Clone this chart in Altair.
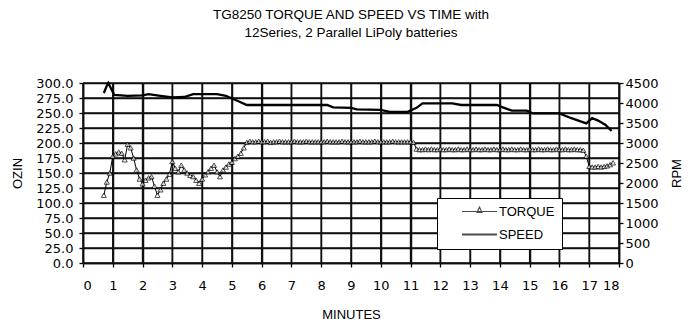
import altair as alt
import pandas as pd

title_lines = ["TG8250 TORQUE AND SPEED VS TIME with", "12Series, 2 Parallel LiPoly batteries"]
minute_ticks = [0, 1, 2, 3, 4, 5, 6, 7, 8, 9, 10, 11, 12, 13, 14, 15, 16, 17, 18]
ozin_ticks = [0, 25, 50, 75, 100, 125, 150, 175, 200, 225, 250, 275, 300]
rpm_ticks = [0, 500, 1000, 1500, 2000, 2500, 3000, 3500, 4000, 4500]
series_names = ["TORQUE", "SPEED"]

torque_min = [
    0.7, 0.8, 0.9,
    1.0, 1.1, 1.2, 1.3, 1.4, 1.5, 1.6, 1.7, 1.8, 1.9,
    2.0, 2.1, 2.2, 2.3, 2.4, 2.5, 2.6, 2.7, 2.8, 2.9,
    3.0, 3.1, 3.2, 3.3, 3.4, 3.5, 3.6, 3.7, 3.8, 3.9,
    4.0, 4.1, 4.2, 4.3, 4.4, 4.5, 4.6, 4.7, 4.8, 4.9,
    5.0, 5.1, 5.2, 5.3, 5.4, 5.5, 5.6, 5.7, 5.8, 5.9,
    6.0, 6.1, 6.2, 6.3, 6.4, 6.5, 6.6, 6.7, 6.8, 6.9,
    7.0, 7.1, 7.2, 7.3, 7.4, 7.5, 7.6, 7.7, 7.8, 7.9,
    8.0, 8.1, 8.2, 8.3, 8.4, 8.5, 8.6, 8.7, 8.8, 8.9,
    9.0, 9.1, 9.2, 9.3, 9.4, 9.5, 9.6, 9.7, 9.8, 9.9,
    10.0, 10.1, 10.2, 10.3, 10.4, 10.5, 10.6, 10.7, 10.8, 10.9,
    11.0, 11.1, 11.2, 11.3, 11.4, 11.5, 11.6, 11.7, 11.8, 11.9,
    12.0, 12.1, 12.2, 12.3, 12.4, 12.5, 12.6, 12.7, 12.8, 12.9,
    13.0, 13.1, 13.2, 13.3, 13.4, 13.5, 13.6, 13.7, 13.8, 13.9,
    14.0, 14.1, 14.2, 14.3, 14.4, 14.5, 14.6, 14.7, 14.8, 14.9,
    15.0, 15.1, 15.2, 15.3, 15.4, 15.5, 15.6, 15.7, 15.8, 15.9,
    16.0, 16.1, 16.2, 16.3, 16.4, 16.5, 16.6, 16.7, 16.8, 16.9,
    17.0, 17.1, 17.2, 17.3, 17.4, 17.5, 17.6, 17.7, 17.8,
]
torque_ozin = [
    113, 135, 150,
    178, 182, 185, 183, 172, 198, 192, 175, 155, 140,
    132, 138, 142, 144, 128, 113, 122, 133, 140, 148,
    169, 158, 152, 163, 155, 150, 146, 144, 138, 133,
    140, 147, 152, 158, 163, 152, 144, 155, 160, 165,
    168, 174, 178, 183, 192, 201, 203, 202, 202, 203,
    202, 202, 203, 201, 202, 202, 203, 202, 202, 202,
    202, 203, 202, 202, 202, 203, 202, 202, 202, 202,
    202, 202, 203, 202, 202, 202, 202, 203, 202, 202,
    202, 202, 202, 203, 202, 202, 202, 202, 203, 202,
    202, 202, 202, 202, 203, 202, 202, 202, 202, 202,
    202, 201, 190, 189, 189, 190, 189, 190, 189, 189,
    190, 189, 189, 190, 189, 189, 190, 189, 189, 190,
    189, 189, 190, 189, 189, 190, 189, 189, 190, 189,
    189, 190, 189, 189, 190, 189, 189, 190, 189, 189,
    190, 189, 189, 190, 189, 189, 190, 189, 189, 190,
    189, 189, 190, 189, 189, 190, 189, 189, 188, 178,
    161, 160, 160, 161, 160, 161, 162, 164, 167,
]

speed_min = [0.7, 0.8, 0.85, 0.95, 1.05, 1.5, 2.0, 2.2, 2.6, 3.0, 3.4, 3.7, 4.5, 4.8,
             5.2, 5.5, 8.2, 8.4, 9.0, 9.2, 10.0, 10.3, 10.9, 11.2, 11.4, 12.4, 12.7,
             13.9, 14.1, 14.4, 14.9, 15.1, 16.0, 16.4, 16.9, 17.1, 17.3, 17.55, 17.75]
speed_rpm = [4250, 4430, 4500, 4350, 4200, 4180, 4190, 4220, 4180, 4140, 4150, 4220, 4220, 4180,
             4050, 3950, 3950, 3890, 3880, 3840, 3830, 3780, 3780, 3880, 3990, 3990, 3950,
             3950, 3890, 3810, 3810, 3740, 3740, 3620, 3490, 3620, 3560, 3450, 3300]

torque_df = pd.DataFrame({"minutes": torque_min, "ozin": torque_ozin, "series": "TORQUE"})
speed_df = pd.DataFrame({"minutes": speed_min, "rpm": speed_rpm, "series": "SPEED"})

# grid lines at the tick values: each line is two end points (first and last tick of the other axis)
vgrid_df = pd.DataFrame({
    "minutes": [m for m in minute_ticks for _ in range(2)],
    "ozin": [ozin_ticks[0], ozin_ticks[-1]] * len(minute_ticks),
    "gid": [f"v{m}" for m in minute_ticks for _ in range(2)],
})
hgrid_df = pd.DataFrame({
    "minutes": [minute_ticks[0], minute_ticks[-1]] * len(ozin_ticks),
    "ozin": [o for o in ozin_ticks for _ in range(2)],
    "gid": [f"h{o}" for o in ozin_ticks for _ in range(2)],
})
legend_df = pd.DataFrame({"minutes": [], "ozin": [], "series": []})

LABEL_FONT = "DejaVu Sans"
TEXT_FONT = "Liberation Sans"
GRID = "#111111"

axis_style = dict(
    labelFont=LABEL_FONT, labelFontSize=13, labelColor="black",
    titleFont=TEXT_FONT, titleFontSize=13, titleFontWeight="normal", titleColor="black",
    domainColor="black", domainWidth=1.5, tickColor="black", tickWidth=1.3, tickSize=4,
)

x_scale = alt.Scale(domain=[0, 18], nice=False, zero=False)
left_scale = alt.Scale(domain=[0, 300], nice=False)
right_scale = alt.Scale(domain=[0, 4500], nice=False)

x_axis = alt.Axis(values=minute_ticks, title="MINUTES", format="d",
                  grid=True, gridColor=GRID, gridWidth=1.5,
                  labelPadding=12, titlePadding=16, **axis_style)
y_left_axis = alt.Axis(values=ozin_ticks, format=".1f", title="OZIN",
                       grid=True, gridColor=GRID, gridWidth=1.5,
                       labelPadding=6, titlePadding=11, **axis_style)
y_right_axis = alt.Axis(orient="right", values=rpm_ticks, format="d", title="RPM", grid=False,
                        labelPadding=2, titlePadding=25, titleAngle=270, **axis_style)

x_enc = alt.X("minutes:Q", scale=x_scale, axis=x_axis)
y_left = alt.Y("ozin:Q", scale=left_scale, axis=y_left_axis)

torque_path = "M-3.5,0H3.5M-0.5,0.2L0,-0.9L0.5,0.2Z"
speed_path = "M-3.5,-0.1H3.5M-3.5,0.1H3.5"

vgrid = alt.Chart(vgrid_df).mark_line(color=GRID, strokeWidth=1.5).encode(
    x=x_enc, y=y_left, detail="gid:N")
hgrid = alt.Chart(hgrid_df).mark_line(color=GRID, strokeWidth=1.5).encode(
    x=x_enc, y=y_left, detail="gid:N")

base_t = alt.Chart(torque_df)
torque_line = base_t.mark_line(color="black", strokeWidth=1).encode(x=x_enc, y=y_left)
torque_pts = base_t.mark_point(shape="triangle-up", size=26, filled=True, fill="white",
                               stroke="black", strokeWidth=1).encode(x=x_enc, y=y_left)
legend_layer = alt.Chart(legend_df).mark_point(filled=False, color="black", strokeWidth=1.1).encode(
    x=x_enc, y=y_left,
    shape=alt.Shape(
        "series:N",
        scale=alt.Scale(domain=series_names, range=[torque_path, speed_path]),
        legend=alt.Legend(
            title=None, orient="none", legendX=354, legendY=115, direction="vertical",
            fillColor="white", strokeColor="black", padding=7,
            symbolOffset=29, labelOffset=13, symbolSize=100,
            symbolStrokeWidth=1.1, symbolStrokeColor="black", symbolFillColor="transparent",
            labelFont=TEXT_FONT, labelFontSize=13, labelColor="black",
            rowPadding=9, labelExpr="datum.label + '     '",
        ),
    ),
)

speed_line = alt.Chart(speed_df).mark_line(color="black", strokeWidth=2.3).encode(
    x=x_enc, y=alt.Y("rpm:Q", scale=right_scale, axis=y_right_axis))

left = alt.layer(vgrid, hgrid, torque_line, torque_pts, legend_layer)
chart = (
    alt.layer(left, speed_line)
    .resolve_scale(y="independent")
    .properties(
        width=536, height=180,
        title=alt.TitleParams(title_lines, font=TEXT_FONT, fontSize=13.5, fontWeight="normal",
                              color="black", anchor="middle", offset=38, lineHeight=18),
        padding={"left": 75, "top": 75, "right": 67, "bottom": 60},
        autosize=alt.AutoSizeParams(type="none"),
    )
)

chart.save("out.html", embed_options={"renderer": "svg", "actions": False})
